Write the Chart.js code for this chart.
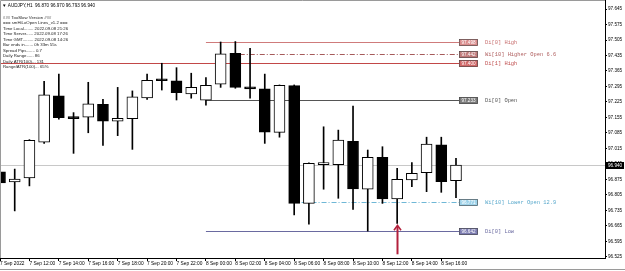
<!DOCTYPE html>
<html>
<head>
<meta charset="utf-8">
<script src="https://cdn.jsdelivr.net/npm/chart.js@4/dist/chart.umd.min.js"></script>
<style>
  html, body { margin: 0; padding: 0; background: #fff; }
  canvas { display: block; }
</style>
</head>
<body>
<canvas id="chart" width="625" height="271"></canvas>
<script>
// AUDJPY H1, one bar per hour from 7 Sep 10:00 to 8 Sep 17:00 (server time)
const opens  = [96.909, 96.864, 96.882, 97.043, 97.253, 97.152, 97.156, 97.215, 97.138, 97.150,
                97.243, 97.322, 97.321, 97.261, 97.233, 97.305, 97.445, 97.294, 97.285, 97.088,
                97.299, 96.767, 96.942, 96.942, 97.047, 96.831, 96.975, 96.787, 96.873, 96.906,
                97.032, 96.870]
const highs  = [96.918, 96.922, 97.055, 97.318, 97.351, 97.177, 97.314, 97.237, 97.291, 97.275,
                97.351, 97.400, 97.380, 97.355, 97.335, 97.496, 97.498, 97.467, 97.351, 97.302,
                97.302, 96.950, 97.113, 97.098, 97.207, 97.008, 97.023, 96.925, 96.951, 97.066,
                97.066, 96.970]
const lows   = [96.678, 96.733, 96.846, 97.038, 97.147, 96.993, 97.086, 97.029, 97.073, 97.011,
                97.237, 97.279, 97.234, 97.242, 97.211, 97.291, 97.287, 97.242, 97.038, 97.066,
                96.715, 96.673, 96.831, 96.790, 96.740, 96.642, 96.767, 96.677, 96.842, 96.820,
                96.817, 96.793]
const closes = [96.860, 96.877, 97.052, 97.257, 97.154, 97.150, 97.217, 97.138, 97.151, 97.248,
                97.323, 97.321, 97.267, 97.291, 97.300, 97.443, 97.291, 97.284, 97.089, 97.300,
                96.767, 96.948, 96.942, 97.053, 96.832, 96.975, 96.787, 96.876, 96.903, 97.035,
                96.865, 96.940]

const priceTicks = [97.645, 97.575, 97.505, 97.435, 97.365, 97.295, 97.225, 97.155, 97.085, 97.015,
                    96.945, 96.875, 96.805, 96.735, 96.665, 96.595, 96.525]
const timeTickBars = [0, 2, 4, 6, 8, 10, 12, 14, 16, 18, 20, 22, 24, 26, 28, 30]
const timeTickLabels = ['7 Sep 2022', '7 Sep 12:00', '7 Sep 14:00', '7 Sep 16:00', '7 Sep 18:00',
                        '7 Sep 20:00', '7 Sep 22:00', '8 Sep 00:00', '8 Sep 02:00', '8 Sep 04:00',
                        '8 Sep 06:00', '8 Sep 08:00', '8 Sep 10:00', '8 Sep 12:00', '8 Sep 14:00',
                        '8 Sep 16:00']

// high / low / open levels drawn by the indicator
const levelNames  = ['Di[0] High', 'Wi[10] Higher Open 6.6', 'Di[1] High', 'Di[0] Open', 'Wi[10] Lower Open 12.9', 'Di[0] Low']
const levelValues = [97.498, 97.442, 97.400, 97.233, 96.771, 96.642]
const levelFromBar = [14, 16.3, -1, 14, 20.5, 14]

const levelStyles = [
  { line: '#cf7b7b', box: '#d98c8c', text: '#c87070', dash: [] },
  { line: '#a55a5a', box: '#c07a7a', text: '#b06060', dash: [5, 2, 1, 2] },
  { line: '#c24848', box: '#d06868', text: '#c05050', dash: [] },
  { line: '#555555', box: '#7a7a7a', text: '#555555', dash: [] },
  { line: '#6fb7d6', box: '#9fd3ea', text: '#5aa9cc', dash: [5, 2, 1, 2] },
  { line: '#6a6aa0', box: '#7d7db2', text: '#6a6aa0', dash: [] }
]

const infoLines = [
  '### TooSlow Version ###',
  '=== smHiLoOpen Lines_v1.2 ===',
  'Time Local........ 2022.09.08 21:26',
  'Time Server...... 2022.09.08 17:26',
  'Time GMT......... 2022.09.08 14:26',
  'Bar ends in....... 0h 33m 55s',
  'Spread Pips....... 0.7',
  'Daily Range...... 86',
  'Daily ATR(100)... 131',
  'Range/ATR(100)... 65%'
]
const arrowBar = 27

const lastBar = closes.length - 1
const bodyData = opens.map((o, i) => ({ x: i, y: [o, closes[i]] }))
const wickData = opens.map((o, i) => ({ x: i, y: [lows[i], highs[i]] }))

const sans = '"Liberation Sans", Arial, sans-serif'
const mono = '"Liberation Mono", "Courier New", monospace'

const overlay = {
  id: 'overlay',
  beforeDatasetsDraw(chart) {
    const { ctx, chartArea: a, scales: { x, y } } = chart
    ctx.save()
    // bid line
    const yb = Math.round(y.getPixelForValue(closes[lastBar])) + 0.5
    ctx.strokeStyle = '#c8c8c8'
    ctx.lineWidth = 1
    ctx.beginPath()
    ctx.moveTo(a.left, yb)
    ctx.lineTo(a.right, yb)
    ctx.stroke()

    // level lines
    const xEnd = x.getPixelForValue(lastBar) + 3
    levelValues.forEach((v, i) => {
      const st = levelStyles[i]
      const py = Math.round(y.getPixelForValue(v)) + 0.5
      const x0 = Math.max(a.left, x.getPixelForValue(levelFromBar[i]))
      ctx.strokeStyle = st.line
      ctx.setLineDash(st.dash)
      ctx.beginPath()
      ctx.moveTo(x0, py)
      ctx.lineTo(xEnd, py)
      ctx.stroke()
    })
    ctx.restore()
  },
  afterDatasetsDraw(chart) {
    const { ctx, scales: { x, y } } = chart
    ctx.save()
    const xEnd = x.getPixelForValue(lastBar) + 3
    levelValues.forEach((v, i) => {
      const st = levelStyles[i]
      const py = Math.round(y.getPixelForValue(v))
      ctx.fillStyle = st.box
      ctx.fillRect(xEnd, py - 3, 19, 7)
      ctx.strokeStyle = '#444'
      ctx.lineWidth = 0.6
      ctx.strokeRect(xEnd + 0.5, py - 2.5, 18, 6)
      ctx.fillStyle = '#fff'
      ctx.font = '4.6px ' + sans
      ctx.textAlign = 'center'
      ctx.textBaseline = 'middle'
      ctx.fillText(v.toFixed(3), xEnd + 9.5, py + 0.5)
      ctx.fillStyle = st.text
      ctx.font = '5.4px ' + mono
      ctx.textAlign = 'left'
      ctx.fillText(levelNames[i], xEnd + 26, py + 0.5)
    })

    // red arrow under the bar
    const ax = Math.round(x.getPixelForValue(arrowBar)) + 0.5
    const tip = y.getPixelForValue(lows[arrowBar]) + 2
    const tail = y.getPixelForValue(lows[arrowBar] - 0.14)
    ctx.strokeStyle = '#b3203c'
    ctx.lineWidth = 2
    ctx.beginPath()
    ctx.moveTo(ax, tail)
    ctx.lineTo(ax, tip + 1)
    ctx.stroke()
    ctx.lineWidth = 1.6
    ctx.beginPath()
    ctx.moveTo(ax - 3.5, tip + 5)
    ctx.lineTo(ax, tip)
    ctx.lineTo(ax + 3.5, tip + 5)
    ctx.stroke()
    ctx.restore()
  },
  afterDraw(chart) {
    const { ctx, chartArea: a, scales: { y } } = chart
    ctx.save()
    // frame
    ctx.strokeStyle = '#9a9a9a'
    ctx.lineWidth = 1
    ctx.beginPath()
    ctx.moveTo(a.left + 0.5, a.bottom)
    ctx.lineTo(a.left + 0.5, a.top + 0.5)
    ctx.lineTo(a.right, a.top + 0.5)
    ctx.moveTo(0, chart.height - 1.5)
    ctx.lineTo(chart.width, chart.height - 1.5)
    ctx.stroke()

    // bid price box on the axis
    const yb = Math.round(y.getPixelForValue(closes[lastBar]))
    ctx.fillStyle = '#000'
    ctx.fillRect(a.right + 1, yb - 3, chart.width - a.right - 2, 7)
    ctx.fillStyle = '#fff'
    ctx.font = '4.6px ' + sans
    ctx.textBaseline = 'middle'
    ctx.fillText(closes[lastBar].toFixed(3), a.right + 3, yb + 0.5)

    // title and info block
    ctx.fillStyle = '#000'
    ctx.font = '4.6px ' + sans
    ctx.fillText('\u25BC AUDJPY,H1  ' + [opens[lastBar], highs[lastBar], lows[lastBar], closes[lastBar]]
      .map(v => v.toFixed(3)).join(' '), 2, 5.5)
    ctx.fillStyle = '#222'
    ctx.font = '4.3px ' + sans
    infoLines.forEach((t, i) => ctx.fillText(t, 3, 17.5 + i * 5.5))
    ctx.restore()
  }
}

new Chart(document.getElementById('chart'), {
  type: 'bar',
  data: {
    datasets: [
      {
        label: 'body',
        data: bodyData,
        grouped: false,
        barThickness: 11,
        minBarLength: 2,
        backgroundColor: bodyData.map((d, i) => closes[i] >= opens[i] ? '#ffffff' : '#000000'),
        borderColor: '#000000',
        borderWidth: 1,
        borderSkipped: false,
        order: 0
      },
      {
        label: 'wick',
        data: wickData,
        grouped: false,
        barThickness: 1,
        backgroundColor: '#000000',
        borderWidth: 0,
        order: 1
      }
    ]
  },
  options: {
    responsive: false,
    devicePixelRatio: 1,
    animation: false,
    layout: { padding: 0 },
    plugins: {
      legend: { display: false },
      tooltip: { enabled: false }
    },
    scales: {
      x: {
        type: 'linear',
        position: 'bottom',
        offset: false,
        min: 0,
        max: 41.13,
        border: { display: true, color: '#000' },
        grid: { offset: false, drawOnChartArea: false, drawTicks: true, tickLength: 3, color: '#000' },
        ticks: {
          autoSkip: false,
          maxRotation: 0,
          align: 'start',
          padding: 0,
          color: '#000',
          font: { size: 4.8, family: sans },
          callback: v => timeTickLabels[timeTickBars.indexOf(v)] ?? ''
        },
        afterBuildTicks: s => { s.ticks = timeTickBars.map(v => ({ value: v })) },
        afterFit: s => { s.height = 13; s.paddingLeft = 0; s.paddingRight = 0 }
      },
      y: {
        type: 'linear',
        position: 'right',
        min: 96.5203,
        max: 97.6857,
        border: { display: true, color: '#000' },
        grid: { drawOnChartArea: false, drawTicks: true, tickLength: 2, color: '#000' },
        ticks: {
          padding: 1,
          color: '#000',
          font: { size: 4.6, family: sans },
          callback: v => v.toFixed(3)
        },
        afterBuildTicks: s => { s.ticks = priceTicks.map(v => ({ value: v })) },
        afterFit: s => { s.width = 20; s.paddingTop = 0; s.paddingBottom = 0 }
      }
    }
  },
  plugins: [overlay]
})
</script>
</body>
</html>
